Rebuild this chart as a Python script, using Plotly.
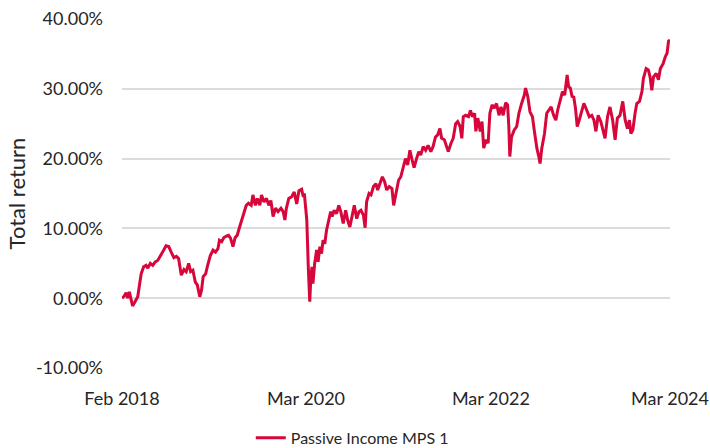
import plotly.graph_objects as go

# total return (%), roughly every 1-2 weeks
dates = [
    "2018-02-01", "2018-02-10", "2018-02-18", "2018-02-24", "2018-03-03", "2018-03-10",
    "2018-03-16", "2018-03-26", "2018-04-06", "2018-04-13", "2018-04-20", "2018-04-30",
    "2018-05-10", "2018-05-17", "2018-05-27", "2018-06-06", "2018-06-16", "2018-06-26",
    "2018-07-07", "2018-07-16", "2018-07-30", "2018-08-10", "2018-08-20", "2018-08-31",
    "2018-09-10", "2018-09-19", "2018-09-30", "2018-10-11", "2018-10-20", "2018-10-30",
    "2018-11-07", "2018-11-16", "2018-11-26", "2018-12-04", "2018-12-14", "2018-12-21",
    "2018-12-28", "2019-01-07", "2019-01-15", "2019-01-20", "2019-01-26", "2019-02-06",
    "2019-02-16", "2019-02-26", "2019-03-04", "2019-03-13", "2019-03-22", "2019-04-01",
    "2019-04-10", "2019-04-18", "2019-04-28", "2019-05-07", "2019-05-15", "2019-05-25",
    "2019-06-03", "2019-06-11", "2019-06-21", "2019-06-30", "2019-07-11", "2019-07-18",
    "2019-07-28", "2019-08-05", "2019-08-15", "2019-08-22", "2019-09-01", "2019-09-11",
    "2019-09-21", "2019-09-29", "2019-10-08", "2019-10-18", "2019-10-28", "2019-11-09",
    "2019-11-18", "2019-11-25", "2019-12-01", "2019-12-11", "2019-12-22", "2020-01-02",
    "2020-01-12", "2020-01-21", "2020-02-01", "2020-02-08", "2020-02-12", "2020-02-17",
    "2020-02-22", "2020-02-28", "2020-03-01", "2020-03-05", "2020-03-09", "2020-03-14",
    "2020-03-18", "2020-03-25", "2020-04-02", "2020-04-08", "2020-04-15", "2020-04-22",
    "2020-04-28", "2020-05-05", "2020-05-12", "2020-05-21", "2020-05-29", "2020-06-04",
    "2020-06-12", "2020-06-22", "2020-07-01", "2020-07-09", "2020-07-19", "2020-07-29",
    "2020-08-06", "2020-08-15", "2020-08-25", "2020-09-02", "2020-09-12", "2020-09-21",
    "2020-09-29", "2020-10-09", "2020-10-16", "2020-10-22", "2020-11-01", "2020-11-09",
    "2020-11-19", "2020-11-29", "2020-12-06", "2020-12-16", "2020-12-25", "2021-01-03",
    "2021-01-12", "2021-01-22", "2021-02-02", "2021-02-09", "2021-02-23", "2021-03-01",
    "2021-03-10", "2021-03-19", "2021-03-29", "2021-04-07", "2021-04-16", "2021-04-25",
    "2021-05-03", "2021-05-13", "2021-05-22", "2021-05-30", "2021-06-09", "2021-06-19",
    "2021-06-29", "2021-07-10", "2021-07-19", "2021-07-29", "2021-08-07", "2021-08-16",
    "2021-08-23", "2021-09-03", "2021-09-13", "2021-09-19", "2021-09-30", "2021-10-09",
    "2021-10-19", "2021-10-27", "2021-11-06", "2021-11-13", "2021-11-19", "2021-11-29",
    "2021-12-10", "2021-12-18", "2021-12-26", "2022-01-04", "2022-01-09", "2022-01-17",
    "2022-01-27", "2022-02-03", "2022-02-10", "2022-02-20", "2022-02-28", "2022-03-07",
    "2022-03-16", "2022-03-24", "2022-04-03", "2022-04-13", "2022-04-21", "2022-04-30",
    "2022-05-10", "2022-05-18", "2022-05-23", "2022-05-27", "2022-06-03", "2022-06-14",
    "2022-06-24", "2022-07-03", "2022-07-14", "2022-07-25", "2022-07-30", "2022-08-08",
    "2022-08-17", "2022-08-27", "2022-09-04", "2022-09-14", "2022-09-23", "2022-09-27",
    "2022-10-04", "2022-10-15", "2022-10-24", "2022-11-03", "2022-11-11", "2022-11-21",
    "2022-11-30", "2022-12-08", "2022-12-18", "2022-12-27", "2023-01-05", "2023-01-15",
    "2023-01-21", "2023-01-28", "2023-02-04", "2023-02-11", "2023-02-18", "2023-02-25",
    "2023-03-05", "2023-03-15", "2023-03-24", "2023-04-04", "2023-04-15", "2023-04-25",
    "2023-05-04", "2023-05-12", "2023-05-21", "2023-06-01", "2023-06-09", "2023-06-18",
    "2023-06-28", "2023-07-08", "2023-07-19", "2023-07-29", "2023-08-07", "2023-08-18",
    "2023-08-29", "2023-09-08", "2023-09-17", "2023-09-25", "2023-10-01", "2023-10-09",
    "2023-10-18", "2023-10-25", "2023-11-05", "2023-11-15", "2023-11-21", "2023-12-02",
    "2023-12-11", "2023-12-18", "2023-12-25", "2024-01-01", "2024-01-12", "2024-01-21",
    "2024-01-29", "2024-02-09", "2024-02-18", "2024-02-25", "2024-03-02", "2024-03-08",
]
total_return = [
    0.0, 0.3, 0.8, 0.0, 0.9, 0.0,
    -1.1, -0.5, 0.2, 1.9, 3.5, 4.5,
    4.7, 4.3, 5.0, 4.7, 5.2, 5.4,
    6.0, 6.6, 7.5, 7.4, 6.6, 5.8,
    6.0, 5.7, 3.3, 4.1, 3.8, 5.0,
    3.8, 4.0, 2.3, 1.9, 0.2, 1.1,
    3.1, 3.5, 4.7, 5.4, 6.1, 6.9,
    6.6, 7.1, 8.3, 8.1, 8.7, 8.9,
    9.0, 8.6, 7.4, 8.7, 9.0, 10.2,
    11.2, 11.9, 13.3, 13.6, 13.3, 14.8,
    13.3, 14.3, 13.3, 14.8, 13.8, 14.3,
    13.3, 14.0, 11.7, 12.9, 12.4, 12.9,
    12.4, 11.2, 12.9, 14.3, 14.5, 15.2,
    13.5, 15.4, 15.6, 14.5, 15.0, 13.1,
    11.2, 4.5, 1.6, -0.5, 2.6, 4.5,
    2.1, 5.0, 6.9, 5.2, 7.4, 6.4,
    8.3, 7.8, 9.7, 11.4, 12.4, 11.7,
    12.6, 12.1, 13.3, 12.4, 10.7, 12.6,
    11.2, 10.2, 11.9, 13.3, 11.4, 12.4,
    12.6, 11.9, 10.1, 13.8, 15.0, 14.8,
    16.0, 16.4, 15.5, 16.4, 17.4, 16.7,
    15.5, 16.0, 15.7, 13.3, 16.0, 16.9,
    17.4, 18.8, 20.0, 19.1, 21.2, 19.8,
    18.7, 20.0, 21.0, 20.5, 21.7, 21.2,
    21.9, 21.0, 21.7, 23.1, 23.4, 24.3,
    22.9, 22.7, 21.7, 21.0, 22.2, 22.9,
    25.0, 25.3, 24.6, 22.9, 26.0, 26.2,
    26.0, 26.9, 26.0, 26.5, 23.9, 25.8,
    23.9, 25.3, 21.5, 22.7, 22.2, 26.5,
    27.7, 27.2, 27.9, 26.2, 27.4, 26.2,
    28.0, 27.7, 24.6, 20.3, 23.1, 24.1,
    24.6, 26.5, 27.9, 29.1, 30.1, 28.9,
    26.7, 26.0, 23.9, 21.5, 20.1, 19.3,
    21.5, 23.6, 26.5, 27.0, 27.4, 26.2,
    25.5, 27.0, 28.6, 29.6, 29.1, 32.0,
    30.3, 30.1, 28.9, 28.8, 27.2, 24.6,
    25.5, 26.7, 27.9, 27.0, 26.0, 26.2,
    25.5, 23.9, 26.2, 25.3, 24.1, 22.9,
    26.0, 27.4, 25.5, 22.7, 25.8, 26.2,
    28.2, 25.5, 24.3, 25.5, 23.6, 24.1,
    26.5, 27.9, 28.2, 29.6, 31.5, 32.9,
    32.7, 31.7, 29.8, 31.7, 32.2, 31.3,
    32.9, 33.6, 34.6, 35.1, 36.8, 37.0,
]

tick_dates = ["2018-02-01", "2020-02-19", "2022-03-11", "2024-03-08"]
tick_labels = ["Feb 2018", "Mar 2020", "Mar 2022", "Mar 2024"]
y_ticks = [-10, 0, 10, 20, 30, 40]

fig = go.Figure()
fig.add_trace(
    go.Scatter(
        x=dates,
        y=total_return,
        mode="lines",
        name="Passive Income MPS 1",
        line={"color": "#d7063b", "width": 3},
    )
)

fig.update_layout(
    width=710,
    height=448,
    margin={"l": 122, "r": 40, "t": 19, "b": 80, "autoexpand": False},
    plot_bgcolor="white",
    paper_bgcolor="white",
    font={"family": "Lato, 'Noto Sans', sans-serif", "size": 18, "color": "#262626"},
    showlegend=True,
    legend={
        "orientation": "h",
        "x": 0.235,
        "xanchor": "left",
        "y": -0.2,
        "yanchor": "middle",
        "font": {"size": 16},
    },
)
fig.update_xaxes(
    type="date",
    range=["2018-02-01", "2024-03-08"],
    tickvals=tick_dates,
    ticktext=tick_labels,
    showgrid=False,
    zeroline=False,
    showline=False,
    ticks="",
    ticklabelstandoff=18,
    automargin=False,
)
fig.update_yaxes(
    range=[-10, 40],
    tickvals=y_ticks,
    ticktext=[f"{v:.2f}%" for v in y_ticks],
    showgrid=True,
    gridcolor="#dcdcdc",
    gridwidth=2,
    zeroline=False,
    ticks="",
    ticklabelstandoff=18,
    automargin=False,
    title={"text": "Total return", "standoff": 4},
)

# the page body has an 8px default margin; drop it so the figure sits at 0,0
fig.write_html(
    "out.html",
    config={"displayModeBar": False},
    post_script="document.body.style.margin = '0';",
)
